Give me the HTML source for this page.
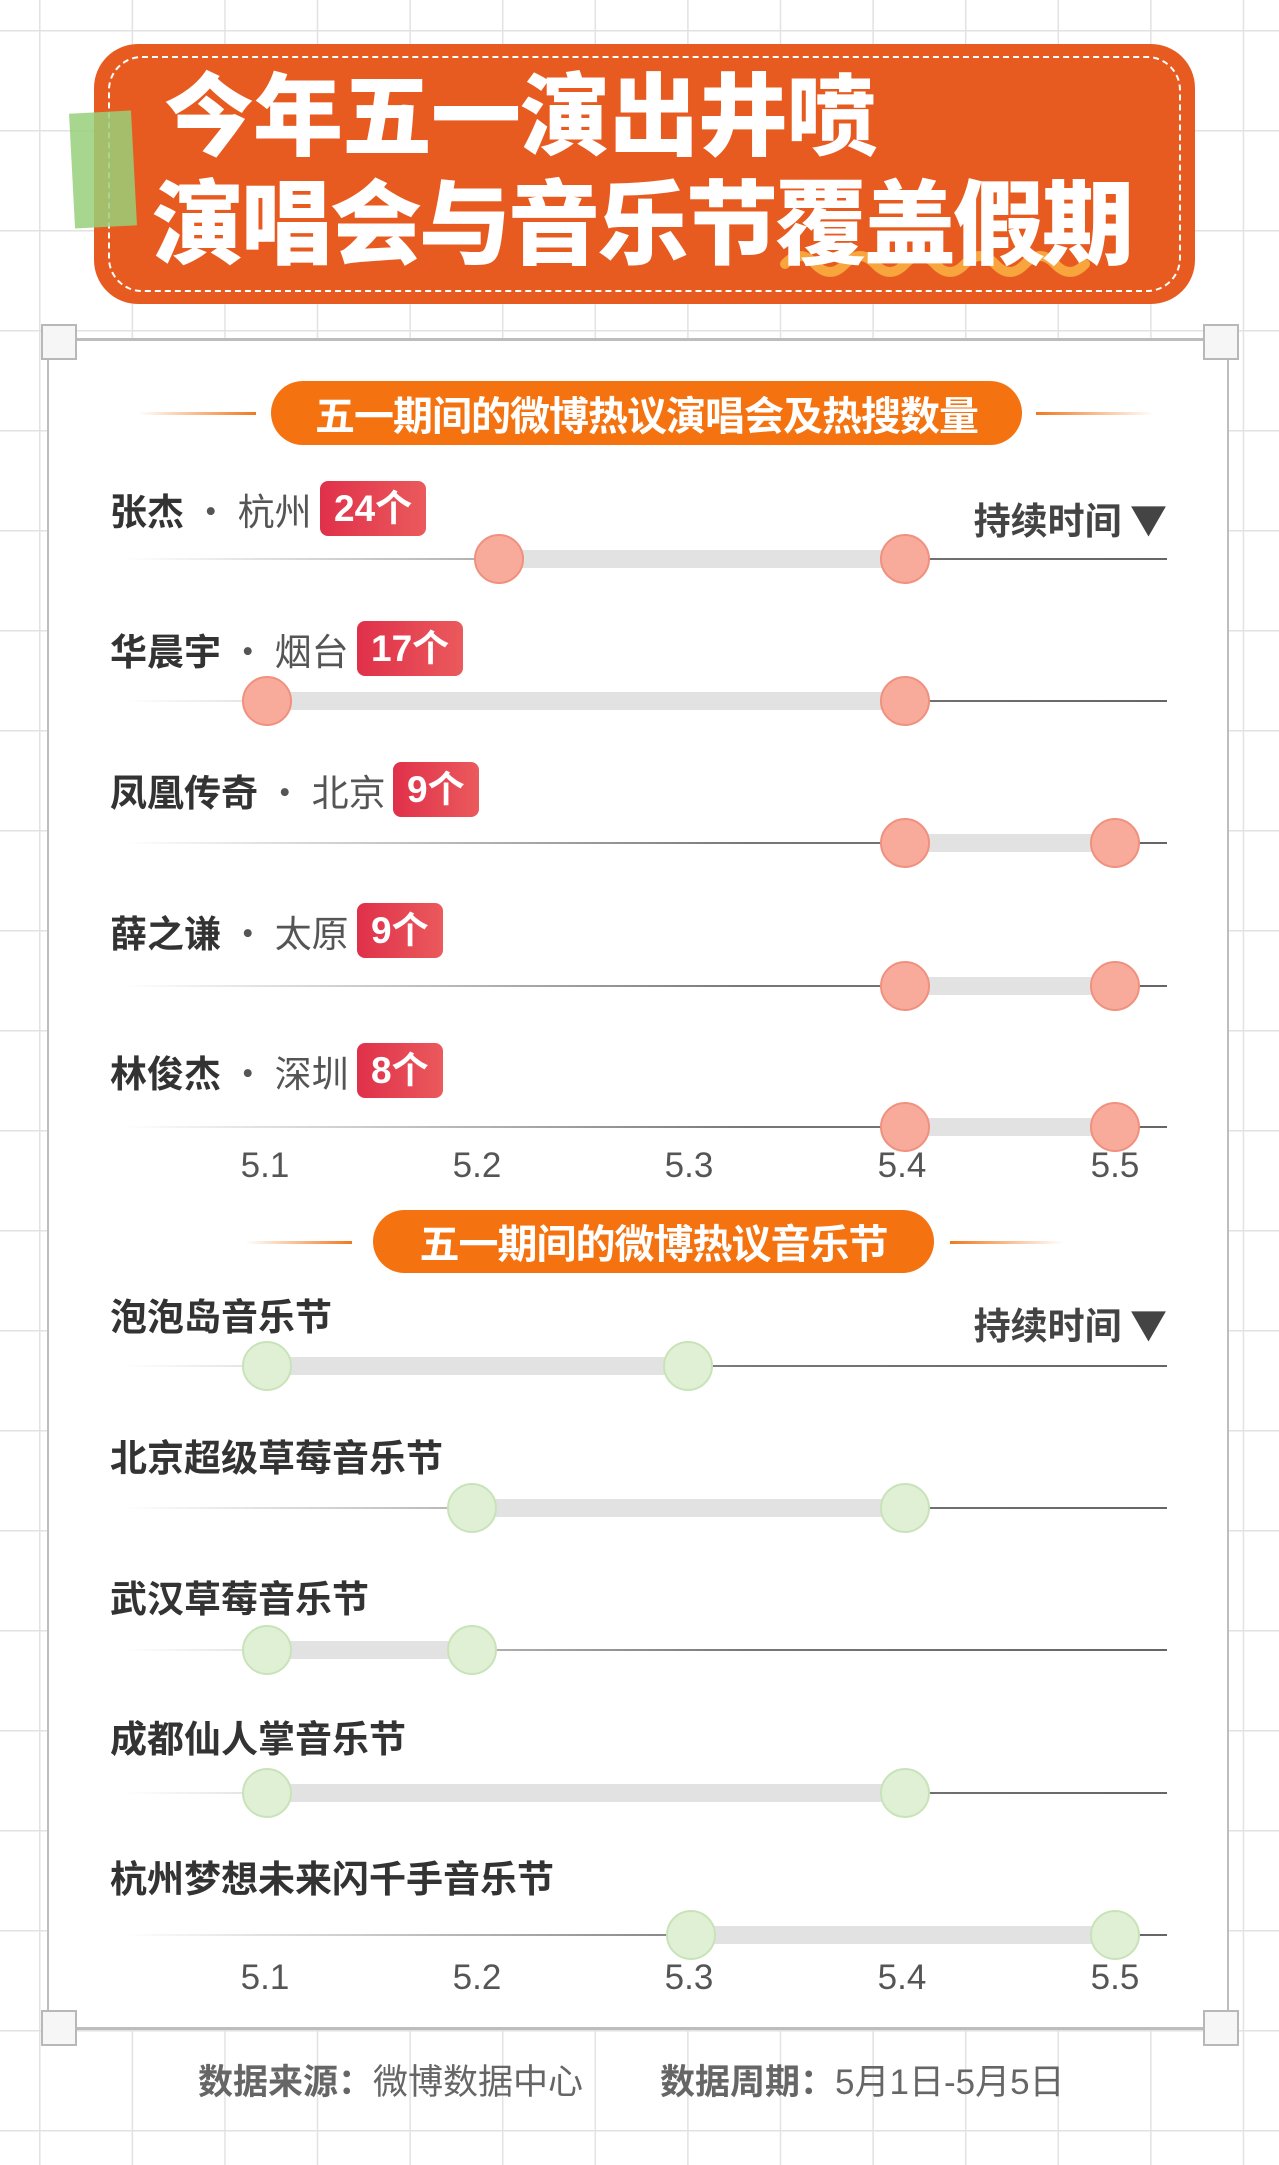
<!DOCTYPE html>
<html><head><meta charset="utf-8">
<style>
*{margin:0;padding:0;box-sizing:border-box}
body{width:1279px;height:2165px;position:relative;overflow:hidden;background:#fff;
font-family:"Liberation Sans","Noto Sans CJK SC",sans-serif;
background-image:linear-gradient(to right,#e2e2e2 1.5px,transparent 1.5px),linear-gradient(to bottom,#e2e2e2 1.5px,transparent 1.5px);
background-size:92.6px 100px;background-position:39px 30px;}
.a{position:absolute}
.hdr{left:94px;top:44px;width:1101px;height:260px;background:#e85b20;border-radius:44px}
.dash{left:108px;top:56px;width:1073px;height:236px;border:2.5px dashed #fff;border-radius:34px}
.t{color:#fff;font-weight:900;white-space:nowrap;font-family:"Noto Sans CJK SC",sans-serif}
.panel{left:47px;top:338px;width:1182px;height:1692px;background:#fff;border:2px solid #bdbdbd;border-top-width:3px;border-bottom-width:3px}
.sq{width:36px;height:36px;background:#f5f6f5;border:2px solid #b8b8b8}
.pill{background:#f47310;border-radius:32px;color:#fff;font-weight:bold;text-align:center;font-size:40px;font-family:"Noto Sans CJK SC",sans-serif;letter-spacing:-1px}
.sl{height:3px}
.lab{left:110px;font-size:37px;color:#333;white-space:nowrap;font-family:"Noto Sans CJK SC",sans-serif;line-height:1}
.lab b{font-weight:bold}
.lab span{color:#555}
.bd{background:linear-gradient(90deg,#e0304a,#ea5a5c);color:#fff;font-weight:bold;font-size:37px;border-radius:8px;height:55px;line-height:55px;padding:0 14px;font-family:"Liberation Sans","Noto Sans CJK SC",sans-serif}
.ln{left:124px;width:1043px;height:2px;background:linear-gradient(90deg,rgba(120,120,120,0),#777 60%,#666)}
.bar{height:18px;background:#e2e2e2}
.c{width:50px;height:50px;border-radius:50%}
.r{background:#f9ab9b;border:2px solid #f0907e}
.g{background:#dff0d4;border:2px solid #c9e3b9}
.tk{font-size:35px;color:#555;width:80px;text-align:center}
.dur{right:112px;font-size:37px;color:#444;font-weight:bold;font-family:"Noto Sans CJK SC",sans-serif}
</style></head><body>
<div class="a hdr"></div>
<div class="a dash"></div>
<div class="a" style="left:72px;top:112px;width:62px;height:115px;background:#98d07a;opacity:.85;transform:rotate(-3deg)"></div>
<div class="a t" style="left:164px;top:64px;font-size:90px;line-height:1;letter-spacing:-1px">今年五一演出井喷</div>
<svg class="a" style="left:780px;top:246px" width="320" height="36"><path d="M5,18 Q20,2 35,18 T65,18 T95,18 T125,18 T155,18 T185,18 T215,18 T245,18 T275,18 T305,18" fill="none" stroke="#f7a53c" stroke-width="10" stroke-linecap="round"/></svg>
<div class="a t" style="left:152px;top:172px;font-size:92px;line-height:1;letter-spacing:-3px">演唱会与音乐节覆盖假期</div>

<div class="a panel"></div>
<div class="a sq" style="left:41px;top:324px"></div>
<div class="a sq" style="left:1203px;top:324px"></div>
<div class="a sq" style="left:41px;top:2010px"></div>
<div class="a sq" style="left:1203px;top:2010px"></div>

<div class="a sl" style="left:138px;top:412px;width:118px;background:linear-gradient(90deg,rgba(240,120,30,0),#f07820)"></div>
<div class="a sl" style="left:1036px;top:412px;width:118px;background:linear-gradient(90deg,#f07820,rgba(240,120,30,0))"></div>
<div class="a pill" style="left:271px;top:381px;width:751px;height:64px;line-height:64px">五一期间的微博热议演唱会及热搜数量</div>

<div class="a lab" style="top:491px"><b>张杰</b><span> · 杭州</span></div>
<div class="a bd" style="left:320px;top:481px">24个</div>
<div class="a dur" style="top:491px">持续时间 ▼</div>
<div class="a ln" style="top:558px"></div><div class="a bar" style="left:499px;top:550px;width:406px"></div>
<div class="a c r" style="left:474px;top:534px"></div><div class="a c r" style="left:880px;top:534px"></div>

<div class="a lab" style="top:631px"><b>华晨宇</b><span> · 烟台</span></div>
<div class="a bd" style="left:357px;top:621px">17个</div>
<div class="a ln" style="top:700px"></div><div class="a bar" style="left:267px;top:692px;width:638px"></div>
<div class="a c r" style="left:242px;top:676px"></div><div class="a c r" style="left:880px;top:676px"></div>

<div class="a lab" style="top:772px"><b>凤凰传奇</b><span> · 北京</span></div>
<div class="a bd" style="left:393px;top:762px">9个</div>
<div class="a ln" style="top:842px"></div><div class="a bar" style="left:905px;top:834px;width:210px"></div>
<div class="a c r" style="left:880px;top:818px"></div><div class="a c r" style="left:1090px;top:818px"></div>

<div class="a lab" style="top:913px"><b>薛之谦</b><span> · 太原</span></div>
<div class="a bd" style="left:357px;top:903px">9个</div>
<div class="a ln" style="top:985px"></div><div class="a bar" style="left:905px;top:977px;width:210px"></div>
<div class="a c r" style="left:880px;top:961px"></div><div class="a c r" style="left:1090px;top:961px"></div>

<div class="a lab" style="top:1053px"><b>林俊杰</b><span> · 深圳</span></div>
<div class="a bd" style="left:357px;top:1043px">8个</div>
<div class="a ln" style="top:1126px"></div><div class="a bar" style="left:905px;top:1118px;width:210px"></div>
<div class="a c r" style="left:880px;top:1102px"></div><div class="a c r" style="left:1090px;top:1102px"></div>

<div class="a tk" style="left:225px;top:1146px">5.1</div>
<div class="a tk" style="left:437px;top:1146px">5.2</div>
<div class="a tk" style="left:649px;top:1146px">5.3</div>
<div class="a tk" style="left:862px;top:1146px">5.4</div>
<div class="a tk" style="left:1075px;top:1146px">5.5</div>

<div class="a sl" style="left:246px;top:1241px;width:106px;background:linear-gradient(90deg,rgba(240,120,30,0),#f07820)"></div>
<div class="a sl" style="left:950px;top:1241px;width:113px;background:linear-gradient(90deg,#f07820,rgba(240,120,30,0))"></div>
<div class="a pill" style="left:373px;top:1210px;width:561px;height:63px;line-height:63px">五一期间的微博热议音乐节</div>

<div class="a lab" style="top:1296px"><b>泡泡岛音乐节</b></div>
<div class="a dur" style="top:1296px">持续时间 ▼</div>
<div class="a ln" style="top:1365px"></div><div class="a bar" style="left:267px;top:1357px;width:421px"></div>
<div class="a c g" style="left:242px;top:1341px"></div><div class="a c g" style="left:663px;top:1341px"></div>

<div class="a lab" style="top:1437px"><b>北京超级草莓音乐节</b></div>
<div class="a ln" style="top:1507px"></div><div class="a bar" style="left:472px;top:1499px;width:433px"></div>
<div class="a c g" style="left:447px;top:1483px"></div><div class="a c g" style="left:880px;top:1483px"></div>

<div class="a lab" style="top:1578px"><b>武汉草莓音乐节</b></div>
<div class="a ln" style="top:1649px"></div><div class="a bar" style="left:267px;top:1641px;width:205px"></div>
<div class="a c g" style="left:242px;top:1625px"></div><div class="a c g" style="left:447px;top:1625px"></div>

<div class="a lab" style="top:1718px"><b>成都仙人掌音乐节</b></div>
<div class="a ln" style="top:1792px"></div><div class="a bar" style="left:267px;top:1784px;width:638px"></div>
<div class="a c g" style="left:242px;top:1768px"></div><div class="a c g" style="left:880px;top:1768px"></div>

<div class="a lab" style="top:1858px"><b>杭州梦想未来闪千手音乐节</b></div>
<div class="a ln" style="top:1934px"></div><div class="a bar" style="left:691px;top:1926px;width:424px"></div>
<div class="a c g" style="left:666px;top:1910px"></div><div class="a c g" style="left:1090px;top:1910px"></div>

<div class="a tk" style="left:225px;top:1958px">5.1</div>
<div class="a tk" style="left:437px;top:1958px">5.2</div>
<div class="a tk" style="left:649px;top:1958px">5.3</div>
<div class="a tk" style="left:862px;top:1958px">5.4</div>
<div class="a tk" style="left:1075px;top:1958px">5.5</div>

<div class="a" style="left:198px;top:2054px;font-size:35px;color:#666;white-space:nowrap;font-family:'Liberation Sans','Noto Sans CJK SC',sans-serif"><b>数据来源：</b>微博数据中心</div>
<div class="a" style="left:660px;top:2054px;font-size:35px;color:#666;white-space:nowrap;font-family:'Liberation Sans','Noto Sans CJK SC',sans-serif"><b>数据周期：</b>5月1日-5月5日</div>
</body></html>
